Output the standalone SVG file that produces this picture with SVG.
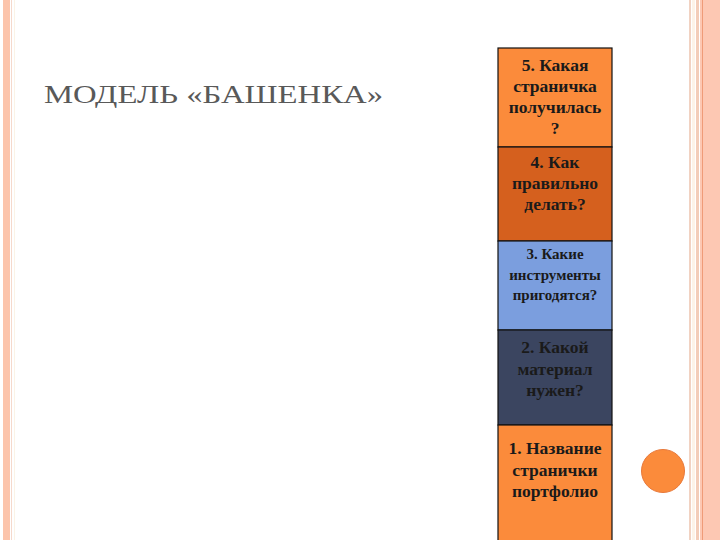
<svg xmlns="http://www.w3.org/2000/svg" width="720" height="540" viewBox="0 0 720 540">
<style>
.t{font-family:"Liberation Serif","DejaVu Serif",serif;font-weight:bold;font-size:17.5px;text-anchor:middle;fill:#1a1a1a}
.s{font-size:15px}
.ttl{font-family:"Liberation Serif","DejaVu Serif",serif;font-size:26px;fill:#595959}
.box{stroke:#111;stroke-width:1.2}
</style>
<rect width="720" height="540" fill="#fff"/>
<g id="border">
<rect x="3" y="0" width="7" height="540" fill="#fcc4ab"/>
<rect x="11" y="0" width="1" height="540" fill="#f5d9cc"/>
<rect x="14" y="0" width="1" height="540" fill="#fbf3e6"/>
<rect x="689" y="0" width="2" height="540" fill="#f1d2c2"/>
<rect x="692" y="0" width="3" height="540" fill="#fdf3e8"/>
<rect x="696" y="0" width="3" height="540" fill="#f3cdb9"/>
<rect x="700" y="0" width="20" height="540" fill="#fdc8b3"/>
<rect x="702" y="0" width="1" height="540" fill="#ef9b78"/>
</g>
<text class="ttl" x="44" y="103" textLength="339" lengthAdjust="spacingAndGlyphs">МОДЕЛЬ «БАШЕНКА»</text>
<g id="n5"><rect class="box" x="498" y="48" width="114" height="99" fill="#fb8b3b"/>
<text class="t" x="555" y="71">5. Какая</text><text class="t" x="555" y="92">страничка</text><text class="t" x="555" y="113">получилась</text><text class="t" x="555" y="134">?</text></g>
<g id="n4"><rect class="box" x="498" y="147" width="114" height="94" fill="#d5601e"/>
<text class="t" x="555" y="168">4. Как</text><text class="t" x="555" y="189">правильно</text><text class="t" x="555" y="210">делать?</text></g>
<g id="n3"><rect class="box" x="498" y="241" width="114" height="89" fill="#7b9ede"/>
<text class="t s" x="555" y="259">3. Какие</text><text class="t s" x="555" y="280">инструменты</text><text class="t s" x="555" y="300">пригодятся?</text></g>
<g id="n2"><rect class="box" x="498" y="330" width="114" height="95" fill="#3b4560"/>
<text class="t" x="555" y="353">2. Какой</text><text class="t" x="555" y="375">материал</text><text class="t" x="555" y="396">нужен?</text></g>
<g id="n1"><rect class="box" x="498" y="425" width="114" height="120" fill="#fb8b3b"/>
<text class="t" x="555" y="454">1. Название</text><text class="t" x="555" y="476">странички</text><text class="t" x="555" y="497">портфолио</text></g>
<g id="connectors"></g>
<circle cx="663" cy="471" r="21.5" fill="#fb8b3b" stroke="#e8793a" stroke-width="1"/>
</svg>
